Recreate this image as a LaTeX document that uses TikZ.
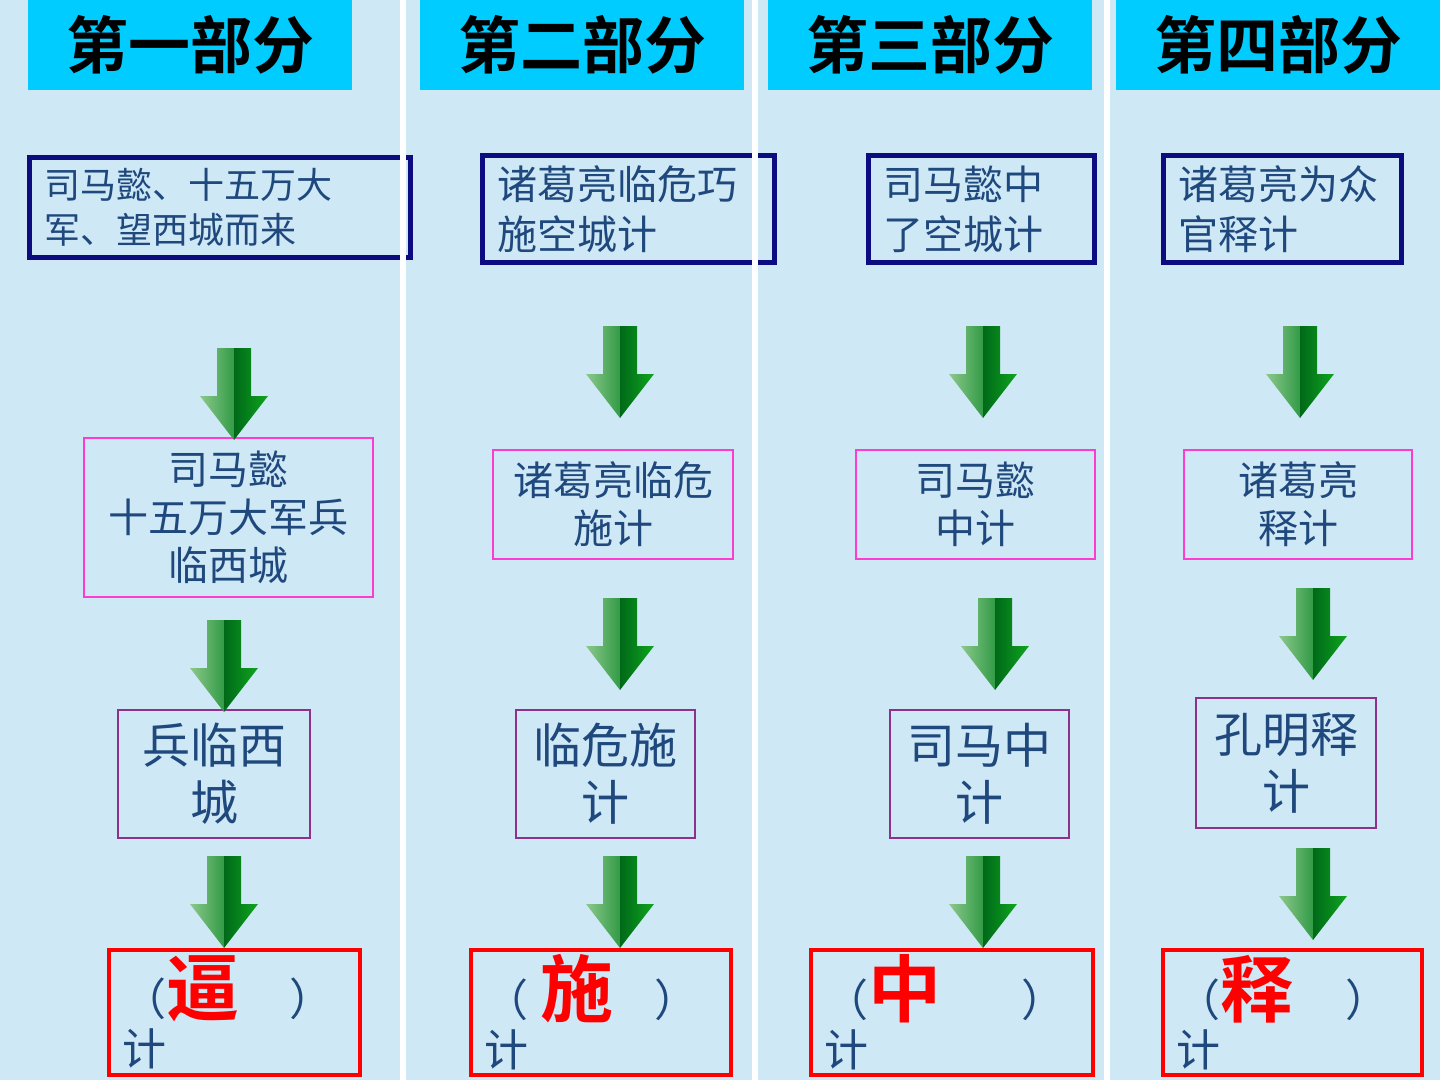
\documentclass[tikz,border=0pt]{standalone}
\usepackage{fontspec}
\setmainfont{Noto Sans CJK SC}[BoldFont={Noto Sans CJK SC Bold}]
\usetikzlibrary{positioning}

\definecolor{bgblue}{RGB}{207,232,246}
\definecolor{headcyan}{RGB}{0,204,255}
\definecolor{navy}{RGB}{12,12,128}
\definecolor{inkblue}{RGB}{31,73,125}
\definecolor{pinkline}{RGB}{255,60,210}
\definecolor{purpleline}{RGB}{140,50,140}
\definecolor{arrowlight}{RGB}{140,200,140}
\definecolor{arrowmid}{RGB}{50,155,70}
\definecolor{arrowdark}{RGB}{0,105,25}
\definecolor{arrowbright}{RGB}{15,165,30}

% first line of a result box: (X   )
\newcommand{\jiline}[3]{（\hspace{#3}{\color{red}\bfseries\fontsize{73}{73}\selectfont #1}\hspace{#2}）}

\begin{document}
\begin{tikzpicture}[
    x=1pt, y=-1pt,
    header/.style={fill=headcyan, minimum width=324pt, minimum height=90pt, inner sep=0pt, font=\bfseries\fontsize{62}{62}\selectfont},
    topbox/.style={draw=navy, line width=5pt, align=left, inner xsep=15pt, inner ysep=0pt, text=inkblue},
    midbox/.style={draw=pinkline, line width=1.5pt, align=center, inner sep=0pt, text=inkblue, font=\fontsize{40}{48}\selectfont},
    lowbox/.style={draw=purpleline, line width=1.5pt, align=center, inner sep=0pt, text=inkblue, font=\fontsize{48}{57}\selectfont},
    resbox/.style={draw=red, line width=4pt, align=left, inner xsep=13pt, inner ysep=0pt, text=inkblue, font=\fontsize{44}{57}\selectfont},
    garrow/.pic={
        \shade[left color=arrowlight, right color=arrowmid] (-17,-92) -- (0,-92) -- (0,0) -- (-34,-44) -- (-17,-44) -- cycle;
        \shade[left color=arrowdark, right color=arrowbright] (0,-92) -- (17,-92) -- (17,-44) -- (34,-44) -- (0,0) -- cycle;
    }
]

\useasboundingbox (0,0) rectangle (1440,1080);
\fill[bgblue] (0,0) rectangle (1440,1080);

% headers
\node[header] (h1) at (190,45) {第一部分};
\node[header] (h2) at (582,45) {第二部分};
\node[header] (h3) at (930,45) {第三部分};
\node[header] (h4) at (1278,45) {第四部分};

% top boxes
\node[topbox, minimum width=381pt, minimum height=100pt, text width=351pt, font=\fontsize{36}{45}\selectfont] (t1) at (220,207) {司马懿、十五万大\\军、望西城而来};
\node[topbox, minimum width=292pt, minimum height=107pt, text width=262pt, font=\fontsize{40}{50}\selectfont] (t2) at (628.5,209) {诸葛亮临危巧\\施空城计};
\node[topbox, minimum width=226pt, minimum height=107pt, text width=196pt, font=\fontsize{40}{50}\selectfont] (t3) at (981.5,209) {司马懿中\\了空城计};
\node[topbox, minimum width=238pt, minimum height=107pt, text width=208pt, font=\fontsize{40}{50}\selectfont] (t4) at (1282.5,209) {诸葛亮为众\\官释计};

% white strips between the parts
\fill[white] (400,0) rectangle (406,1080);
\fill[white] (752,0) rectangle (758,1080);
\fill[white] (1104,0) rectangle (1110,1080);

% middle boxes
\node[midbox, minimum width=289pt, minimum height=159pt] (m1) at (228.5,517.5) {司马懿\\十五万大军兵\\临西城};
\node[midbox, minimum width=240pt, minimum height=109pt] (m2) at (613,504.5) {诸葛亮临危\\施计};
\node[midbox, minimum width=239pt, minimum height=109pt] (m3) at (975.5,504.5) {司马懿\\中计};
\node[midbox, minimum width=228pt, minimum height=109pt] (m4) at (1298,504.5) {诸葛亮\\释计};

% lower boxes
\node[lowbox, minimum width=192pt, minimum height=128pt] (l1) at (214,774) {兵临西\\城};
\node[lowbox, minimum width=179pt, minimum height=128pt] (l2) at (605.5,774) {临危施\\计};
\node[lowbox, minimum width=179pt, minimum height=128pt] (l3) at (979.5,774) {司马中\\计};
\node[lowbox, minimum width=180pt, minimum height=130pt] (l4) at (1286,763) {孔明释\\计};

% result boxes
\node[resbox, minimum width=251pt, minimum height=125pt, text width=225pt] (r1) at (234.5,1012.5) {\jiline{逼}{50pt}{0pt}\\[-7pt]计};
\node[resbox, minimum width=260pt, minimum height=125pt, text width=234pt] (r2) at (601,1012.5) {\jiline{施}{41pt}{12pt}\\[-7pt]计};
\node[resbox, minimum width=282pt, minimum height=125pt, text width=256pt] (r3) at (952,1012.5) {\jiline{中}{80pt}{0pt}\\[-7pt]计};
\node[resbox, minimum width=259pt, minimum height=125pt, text width=233pt] (r4) at (1292.5,1012.5) {\jiline{释}{52pt}{0pt}\\[-7pt]计};

% arrows
\pic at (234,440) {garrow};
\pic at (224,712) {garrow};
\pic at (224,948) {garrow};
\pic at (620,418) {garrow};
\pic at (620,690) {garrow};
\pic at (620,948) {garrow};
\pic at (983,418) {garrow};
\pic at (995,690) {garrow};
\pic at (983,948) {garrow};
\pic at (1300,418) {garrow};
\pic at (1313,680) {garrow};
\pic at (1313,940) {garrow};

\end{tikzpicture}
\end{document}
